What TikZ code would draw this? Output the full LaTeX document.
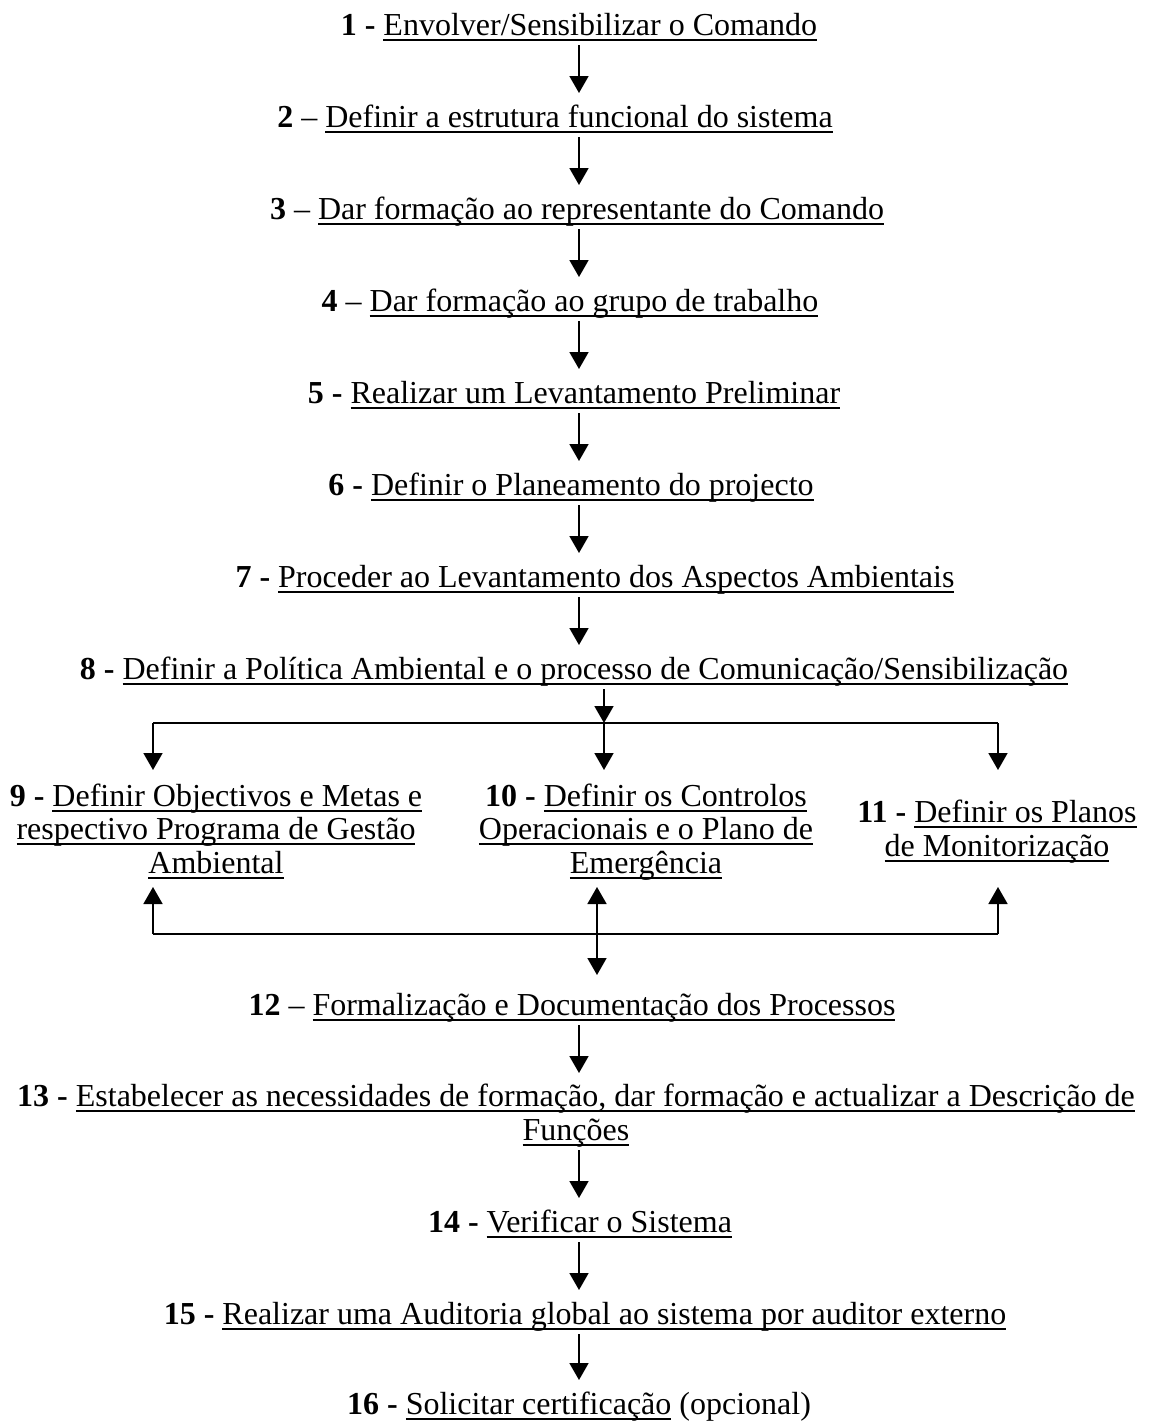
\documentclass[tikz,border=0pt]{standalone}
\usepackage{fontspec}
\setmainfont{Liberation Serif}
\usetikzlibrary{arrows.meta,calc}
\newcommand{\sublinha}[1]{\setbox0\hbox{#1}\rlap{\rule[-2.8pt]{\wd0}{0.9pt}}\box0\relax}

\begin{document}
\begin{tikzpicture}[
  x=0.5pt,y=-0.5pt,
  etapa/.style={anchor=base,inner sep=0pt,font=\fontsize{16}{16.75}\selectfont},
  bloco/.style={etapa,align=center},
  seta/.style={-{Triangle[width=9.5pt,length=8.5pt]},line width=0.9pt},
  setadupla/.style={{Triangle[width=9.5pt,length=8.5pt]}-{Triangle[width=9.5pt,length=8.5pt]},line width=0.9pt},
  linha/.style={line width=0.9pt}
]
\useasboundingbox (0,0) rectangle (1153,1421);

\node[etapa] (n1) at (579,35) {\textbf{1 -} \sublinha{Envolver/Sensibilizar o Comando}};
\node[etapa] (n2) at (555,127) {\textbf{2} – \sublinha{Definir a estrutura funcional do sistema}};
\node[etapa] (n3) at (577,219) {\textbf{3} – \sublinha{Dar formação ao representante do Comando}};
\node[etapa] (n4) at (570,311) {\textbf{4} – \sublinha{Dar formação ao grupo de trabalho}};
\node[etapa] (n5) at (574,403) {\textbf{5 -} \sublinha{Realizar um Levantamento Preliminar}};
\node[etapa] (n6) at (571,495) {\textbf{6 -} \sublinha{Definir o Planeamento do projecto}};
\node[etapa] (n7) at (595,587) {\textbf{7 -} \sublinha{Proceder ao Levantamento dos Aspectos Ambientais}};
\node[etapa] (n8) at (574,679) {\textbf{8 -} \sublinha{Definir a Política Ambiental e o processo de Comunicação/Sensibilização}};

% base = ultima linha
\node[bloco] (n9) at (216,873) {\textbf{9 -} \sublinha{Definir Objectivos e Metas e}\\
  \sublinha{respectivo Programa de Gestão}\\\sublinha{Ambiental}};
\node[bloco] (n10) at (646,873) {\textbf{10 -} \sublinha{Definir os Controlos}\\
  \sublinha{Operacionais e o Plano de}\\\sublinha{Emergência}};
\node[bloco] (n11) at (997,856) {\textbf{11 -} \sublinha{Definir os Planos}\\
  \sublinha{de Monitorização}};

\node[etapa] (n12) at (572,1015) {\textbf{12} – \sublinha{Formalização e Documentação dos Processos}};
\node[bloco] (n13) at (576,1140) {\textbf{13 -} \sublinha{Estabelecer as necessidades de formação, dar formação e actualizar a Descrição de}\\
  \sublinha{Funções}};
\node[etapa] (n14) at (580,1232) {\textbf{14 -} \sublinha{Verificar o Sistema}};
\node[etapa] (n15) at (585,1324) {\textbf{15 -} \sublinha{Realizar uma Auditoria global ao sistema por auditor externo}};
\node[etapa] (n16) at (579,1414) {\textbf{16 -} \sublinha{Solicitar certificação} (opcional)};

% eixo das setas
\coordinate (eixo) at (579,0);
\coordinate (split) at (604,723);
\coordinate (topleft) at (153,723);
\coordinate (topright) at (998,723);
\coordinate (in9) at (153,770);
\coordinate (in10) at (604,770);
\coordinate (in11) at (998,770);
\coordinate (join) at (597,934);
\coordinate (botleft) at (153,934);
\coordinate (botright) at (998,934);
\coordinate (out9) at (153,887);
\coordinate (out10) at (597,887);
\coordinate (out11) at (998,887);
\coordinate (in12) at (597,975);

\foreach \a/\b in {n1/n2,n2/n3,n3/n4,n4/n5,n5/n6,n6/n7,n7/n8,n13/n14,n14/n15,n15/n16}
  \draw[seta] (\a.base -| eixo) ++(0,10) -- ($(\b.base -| eixo)+(0,-34)$);
\draw[seta] (n12.base -| eixo) ++(0,10) -- ($(n13.base -| eixo)+(0,-67)$);

% ramificacao
\draw[seta] (n8.base -| split) ++(0,10) -- (split);
\draw[linha] (topleft) -- (topright);
\draw[seta] (topleft) -- (in9);
\draw[seta] (split) -- (in10);
\draw[seta] (topright) -- (in11);

% retorno
\draw[linha] (botleft) -- (botright);
\draw[seta] (botleft) -- (out9);
\draw[seta] (botright) -- (out11);
\draw[setadupla] (out10) -- (in12);
\end{tikzpicture}
\end{document}
